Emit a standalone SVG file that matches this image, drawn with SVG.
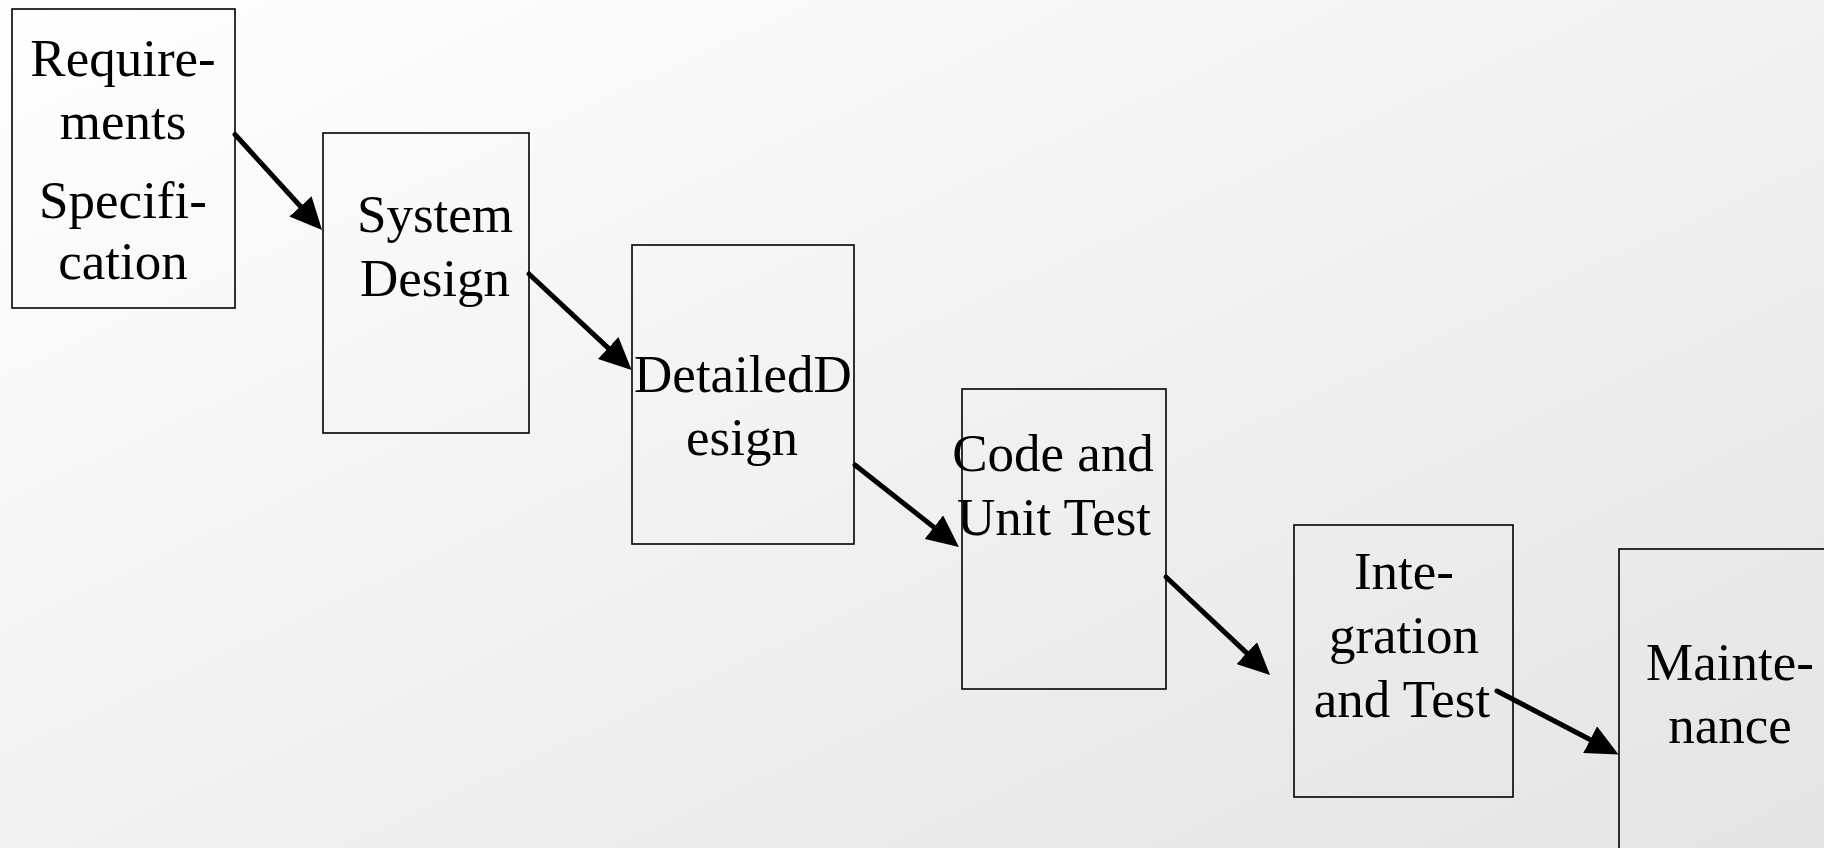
<svg xmlns="http://www.w3.org/2000/svg" width="1824" height="848" viewBox="0 0 1824 848">
  <defs>
    <linearGradient id="bg" x1="0" y1="0" x2="1" y2="1">
      <stop offset="0" stop-color="#ffffff"/>
      <stop offset="1" stop-color="#e4e4e4"/>
    </linearGradient>
    <marker id="head" markerUnits="userSpaceOnUse" markerWidth="32" markerHeight="30" refX="10" refY="15" orient="auto">
      <path d="M0,0 L32,15 L0,30 z" fill="#000"/>
    </marker>
  </defs>
  <style>
    .box { fill: none; stroke: #000; stroke-width: 1.6; }
    .lbl { font-family: "Liberation Serif", "Times New Roman", serif; font-size: 53px; fill: #000; text-anchor: middle; }
    .arrow { stroke: #000; stroke-width: 5; stroke-linecap: round; fill: none; marker-end: url(#head); }
  </style>

  <rect x="0" y="0" width="1824" height="848" fill="url(#bg)"/>

  <!-- Phases of the waterfall -->
  <g id="requirements">
    <rect class="box" x="12" y="9" width="223" height="299"/>
    <text class="lbl" x="123" y="76">Require-</text>
    <text class="lbl" x="123" y="139">ments</text>
    <text class="lbl" x="123" y="218">Specifi-</text>
    <text class="lbl" x="123" y="279">cation</text>
  </g>

  <g id="system-design">
    <rect class="box" x="323" y="133" width="206" height="300"/>
    <text class="lbl" x="435" y="232">System</text>
    <text class="lbl" x="435" y="296">Design</text>
  </g>

  <g id="detailed-design">
    <rect class="box" x="632" y="245" width="222" height="299"/>
    <text class="lbl" x="743" y="392">DetailedD</text>
    <text class="lbl" x="742" y="455">esign</text>
  </g>

  <g id="code-unit-test">
    <rect class="box" x="962" y="389" width="204" height="300"/>
    <text class="lbl" x="1053" y="471">Code and</text>
    <text class="lbl" x="1054" y="535">Unit Test</text>
  </g>

  <g id="integration-test">
    <rect class="box" x="1294" y="525" width="219" height="272"/>
    <text class="lbl" x="1404" y="589">Inte-</text>
    <text class="lbl" x="1404" y="653">gration</text>
    <text class="lbl" x="1402" y="717">and Test</text>
  </g>

  <g id="maintenance">
    <rect class="box" x="1619" y="549" width="240" height="340"/>
    <text class="lbl" x="1730" y="680">Mainte-</text>
    <text class="lbl" x="1730" y="743">nance</text>
  </g>

  <!-- Connectors between phases -->
  <g id="connectors">
    <line class="arrow" x1="235" y1="134.5" x2="307.2" y2="213.7"/>
    <line class="arrow" x1="529" y1="274" x2="615.5" y2="354.9"/>
    <line class="arrow" x1="855" y1="465" x2="941.7" y2="533.4"/>
    <line class="arrow" x1="1166" y1="577" x2="1254" y2="659.9"/>
    <line class="arrow" x1="1497" y1="691" x2="1599" y2="744.3"/>
  </g>
</svg>
